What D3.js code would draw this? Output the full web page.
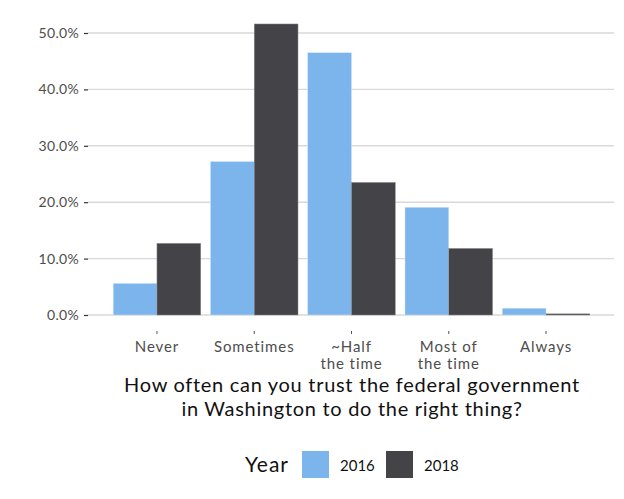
<!DOCTYPE html>
<html>
<head>
<meta charset="utf-8">
<script src="https://cdn.jsdelivr.net/npm/d3@7"></script>
<style>
  body { margin: 0; background: #fff; }
  text { font-family: Lato, "Noto Sans", sans-serif; }
</style>
</head>
<body>
<script>
// data (share of answers, %)
const categories = ['Never', 'Sometimes', '~Half\nthe time', 'Most of\nthe time', 'Always'];
const years = ['2016', '2018'];
const values2016 = [5.6, 27.2, 46.5, 19.1, 1.2];
const values2018 = [12.7, 51.6, 23.5, 11.8, 0.2];
const yTicks = [0, 10, 20, 30, 40, 50];
const colors = ['#7cb5ec', '#434348'];

const W = 624, H = 499;
const svg = d3.select('body').append('svg').attr('width', W).attr('height', H);

const panelL = 88, panelR = 614;
const y = d3.scaleLinear().domain([0, 50]).range([315, 33]);
const x = d3.scaleBand().domain(categories).range([98.6, 604.4]).paddingInner(0.1).paddingOuter(0.15);
const xs = d3.scaleBand().domain(years).range([0, x.bandwidth()]);
const color = d3.scaleOrdinal().domain(years).range(colors);

// gridlines
svg.append('g').selectAll('line').data(yTicks).enter().append('line')
  .attr('x1', panelL).attr('x2', panelR)
  .attr('y1', d => y(d)).attr('y2', d => y(d))
  .attr('stroke', '#d9d9d9').attr('stroke-width', 1.4);

// y axis
const yAxis = svg.append('g').attr('transform', 'translate(' + panelL + ',0)')
  .call(d3.axisLeft(y).tickValues(yTicks).tickSize(4).tickPadding(5).tickFormat(d => d.toFixed(1) + '%'));
yAxis.select('.domain').remove();
yAxis.selectAll('line').attr('stroke', '#333').attr('stroke-width', 1.2);
yAxis.selectAll('text').attr('font-size', 14).attr('fill', '#4d4d4d').attr('font-family', 'Lato, "Noto Sans", sans-serif')
  .attr('letter-spacing', 0.3);

// bars
const series = years.map((yr, i) => ({ year: yr, vals: i === 0 ? values2016 : values2018 }));
const rows = [];
series.forEach(s => s.vals.forEach((v, i) => rows.push({ cat: categories[i], year: s.year, v: v })));
svg.append('g').selectAll('rect').data(rows).enter().append('rect')
  .attr('x', d => x(d.cat) + xs(d.year))
  .attr('width', xs.bandwidth())
  .attr('y', d => y(d.v))
  .attr('height', d => y(0) - y(d.v))
  .attr('fill', d => color(d.year))
  .attr('stroke', d => d.year === '2016' ? '#cfe3f8' : '#8a8a8c')
  .attr('stroke-width', 0.5);

// x axis ticks and labels
const xg = svg.append('g');
categories.forEach(c => {
  const cx = x(c) + x.bandwidth() / 2;
  xg.append('line').attr('x1', cx).attr('x2', cx).attr('y1', 331).attr('y2', 334)
    .attr('stroke', '#555').attr('stroke-width', 1);
  const t = xg.append('text').attr('x', cx).attr('y', 352).attr('text-anchor', 'middle')
    .attr('font-size', 15).attr('letter-spacing', 0.9).attr('fill', '#4d4d4d');
  c.split('\n').forEach((ln, i) => t.append('tspan').attr('x', cx).attr('dy', i ? 17 : 0).text(ln));
});

// x title
const title = svg.append('text').attr('x', 352).attr('y', 392).attr('text-anchor', 'middle')
  .attr('font-size', 20).attr('letter-spacing', 0.7).attr('fill', '#111');
title.append('tspan').attr('x', 352).text('How often can you trust the federal government');
title.append('tspan').attr('x', 352).attr('dy', 24).text('in Washington to do the right thing?');

// legend
const lg = svg.append('g');
lg.append('text').attr('x', 245).attr('y', 472).attr('font-size', 21).attr('letter-spacing', 1).attr('fill', '#111').text('Year');
years.forEach((yr, i) => {
  const lx = 302 + i * 84;
  lg.append('rect').attr('x', lx).attr('y', 451).attr('width', 27).attr('height', 27).attr('fill', color(yr));
  lg.append('text').attr('x', lx + 38).attr('y', 471).attr('font-size', 15).attr('fill', '#111').text(yr);
});
</script>
</body>
</html>
